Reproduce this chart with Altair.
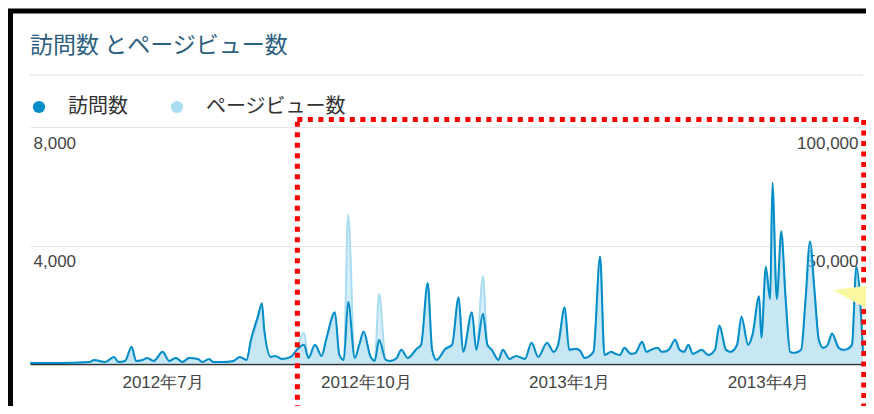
import altair as alt
import pandas as pd

# day index counted from 2012-05-02
days = [0, 14, 27, 29, 34, 38, 40, 43, 46, 48, 51, 53, 56, 60, 63, 66, 69, 72, 76, 78,
        81, 83, 88, 92, 95, 98, 100, 103, 105, 106, 109, 111, 114, 118, 120, 124, 126, 129, 132, 134,
        138, 140, 142, 144, 147, 149, 151, 154, 156, 158, 161, 163, 166, 168, 171, 175, 177, 180, 182, 184,
        188, 191, 194, 196, 200, 202, 205, 207, 209, 212, 214, 217, 220, 224, 227, 230, 234, 237, 239, 242,
        244, 247, 249, 251, 255, 258, 260, 263, 265, 267, 269, 272, 274, 277, 279, 281, 284, 286, 289, 292,
        294, 296, 298, 300, 302, 304, 307, 310, 312, 315, 317, 320, 322, 325, 326, 327, 330, 331, 333, 335,
        336, 338, 340, 342, 344, 346, 349, 351, 353, 355, 357, 359, 361, 363, 366, 368, 370, 372, 374, 377]

visits = [34, 34, 68, 137, 68, 239, 68, 103, 581, 103, 137, 205, 103, 410, 103, 205, 68, 205, 171, 68,
          171, 68, 68, 103, 239, 137, 821, 1573, 2052, 1170, 239, 274, 171, 239, 410, 650, 205, 650, 274, 821,
          1744, 308, 137, 2100, 205, 650, 1094, 274, 103, 820, 137, 103, 205, 479, 205, 513, 650, 2736, 479, 137,
          513, 650, 2257, 410, 1744, 479, 1700, 650, 479, 137, 479, 171, 274, 171, 718, 239, 718, 410, 650, 1915,
          479, 513, 445, 205, 410, 3625, 308, 410, 342, 308, 547, 342, 376, 752, 410, 479, 547, 410, 479, 821,
          479, 410, 650, 342, 410, 479, 308, 479, 1300, 479, 410, 650, 1607, 650, 752, 992, 2291, 889, 3283, 2189,
          6122, 2189, 4480, 2189, 410, 376, 479, 2189, 4138, 2531, 821, 547, 650, 1026, 547, 479, 513, 650, 3283, 410]

pageviews = [400, 420, 800, 1500, 800, 2800, 800, 1200, 6800, 1300, 1600, 2400, 1200, 4900, 1200, 2500, 900, 2600, 2000, 800,
             2100, 800, 900, 1200, 2900, 1600, 9500, 18000, 24000, 14000, 3000, 3300, 2000, 2800, 5000, 13200, 2500, 7800, 3300, 9800,
             20500, 3800, 1800, 63000, 2600, 7800, 13000, 3300, 1300, 29500, 1700, 1300, 2500, 5800, 2500, 6200, 7800, 32000, 5800, 1700,
             6200, 7800, 27000, 5000, 20500, 5800, 37000, 7800, 5800, 1700, 5800, 2100, 3300, 2100, 8600, 2900, 8600, 4900, 7800, 22500,
             5800, 6200, 5300, 2500, 4900, 42500, 3700, 4900, 4100, 3700, 6500, 4100, 4500, 9000, 4900, 5700, 6500, 4900, 5700, 9800,
             5700, 4900, 7800, 4100, 4900, 5700, 3700, 5700, 15000, 5700, 4900, 7800, 18500, 7800, 9000, 12000, 27000, 11500, 38000, 28000,
             72000, 30000, 52000, 27000, 4900, 4500, 5700, 26000, 48000, 30000, 9800, 6500, 7800, 12000, 6500, 5700, 6100, 7800, 38500, 4900]

series_names = ["訪問数", "ページビュー数"]
series_colors = ["#058dc7", "#aadcf2"]

highlight_start = ["2012-08-31T00:00:00"]
highlight_end = ["2013-05-14T08:00:00"]

df = pd.DataFrame({
    "date": pd.Timestamp("2012-05-02") + pd.to_timedelta(days, unit="D"),
    "visits": visits,
    "pageviews": pageviews,
})
box_df = pd.DataFrame({"start": pd.to_datetime(highlight_start), "end": pd.to_datetime(highlight_end)})

W, H = 833, 237
LABEL_FONT = "Liberation Sans"
JP_FONT = "Noto Sans CJK JP"

xdomain = [alt.DateTime(year=2012, month=5, date=2), alt.DateTime(year=2013, month=5, date=14)]
cscale = alt.Scale(domain=series_names, range=series_colors)

x_axis = alt.Axis(
    values=[alt.DateTime(year=2012, month=7, date=1), alt.DateTime(year=2012, month=10, date=1),
            alt.DateTime(year=2013, month=1, date=1), alt.DateTime(year=2013, month=4, date=1)],
    labelExpr="timeFormat(datum.value, '%Y年%-m月')",
    ticks=False, grid=False, domain=True, domainColor="#333333", domainWidth=1.5,
    labelFontSize=17, labelFont=LABEL_FONT, labelColor="#444444", labelPadding=10, title=None,
)
v_axis = alt.Axis(
    values=[4000, 8000], orient="left", format=",.0f", ticks=False, domain=False,
    grid=True, gridColor="#e6e6e6", labelAlign="left", labelPadding=-3, labelBaseline="top",
    labelOffset=8, labelFontSize=17, labelFont=LABEL_FONT, labelColor="#444444", title=None,
)
pv_axis = alt.Axis(
    values=[50000, 100000], orient="right", format=",.0f", ticks=False, domain=False,
    grid=False, labelAlign="right", labelPadding=-5, labelBaseline="top",
    labelOffset=8, labelFontSize=17, labelFont=LABEL_FONT, labelColor="#444444", title=None,
)
legend = alt.Legend(
    orient="none", legendX=-1, legendY=-30, direction="horizontal", title=None,
    symbolType="circle", symbolSize=150, symbolStrokeWidth=0, symbolOpacity=1,
    labelFontSize=20, labelFont=JP_FONT, labelColor="#333333", labelOffset=19,
    columnPadding=39, padding=0,
)

X = alt.X("date:T", scale=alt.Scale(domain=xdomain), axis=x_axis)
C = alt.Color("series:N", scale=cscale, legend=legend)
Ypv = alt.Y("pageviews:Q", scale=alt.Scale(domain=[0, 100000], nice=False), axis=pv_axis, stack=None)
Yv = alt.Y("visits:Q", scale=alt.Scale(domain=[0, 8000], nice=False), axis=v_axis, stack=None)

base = alt.Chart(df)

pv_area = base.transform_calculate(series="'ページビュー数'").mark_area(
    fillOpacity=0.45, interpolate="monotone").encode(x=X, y=Ypv, color=C)
pv_line = base.transform_calculate(series="'ページビュー数'").mark_line(
    strokeWidth=2, interpolate="monotone").encode(x=X, y=Ypv, color=C)
v_area = base.transform_calculate(series="'訪問数'").mark_area(
    fillOpacity=0.08, interpolate="monotone").encode(x=X, y=Yv, color=C)
v_line = base.transform_calculate(series="'訪問数'").mark_line(
    strokeWidth=2, interpolate="monotone").encode(x=X, y=Yv, color=C)

pv_layer = alt.layer(pv_area, pv_line)
v_layer = alt.layer(v_area, v_line)

# decorations of the screenshot
separator = alt.Chart(box_df).mark_rule(color="#dddddd", strokeWidth=1).encode(
    x=alt.value(0), x2=alt.value(W), y=alt.value(-52))
frame_top = alt.Chart(box_df).mark_rule(color="#000000", strokeWidth=5).encode(
    x=alt.value(-22), x2=alt.value(W + 3), y=alt.value(-116))
frame_left = alt.Chart(box_df).mark_rule(color="#000000", strokeWidth=5).encode(
    x=alt.value(-19.5), y=alt.value(-118), y2=alt.value(H + 42))
red_box = alt.Chart(box_df).mark_rect(
    fillOpacity=0, stroke="#ff0000", strokeWidth=5, strokeDash=[5, 5.5]
).encode(
    x=alt.X("start:T", scale=alt.Scale(domain=xdomain), axis=x_axis),
    x2="end:T",
    y=alt.value(-7.5), y2=alt.value(H + 80),
)
arrow = alt.Chart(box_df).mark_point(
    shape="M-1,0L1,-0.25L1,1.1Z", filled=True, fill="#fbf7a0", opacity=1, strokeWidth=0, size=1681
).encode(x=alt.value(823.5), y=alt.value(163))

chart = alt.layer(
    pv_layer, v_layer, separator, red_box, arrow, frame_top, frame_left
).resolve_scale(y="independent").properties(
    width=W, height=H,
    title=alt.Title("訪問数 とページビュー数", anchor="start", frame="group", fontSize=23, font=JP_FONT,
                    color="#2d5f80", fontWeight="normal", offset=-51),
    autosize=alt.AutoSizeParams(type="none"),
    padding={"left": 22, "top": 119, "right": 3, "bottom": 42},
).configure(background="#ffffff").configure_view(stroke=None)

chart.save("out.html", embed_options={"renderer": "svg", "actions": False})
